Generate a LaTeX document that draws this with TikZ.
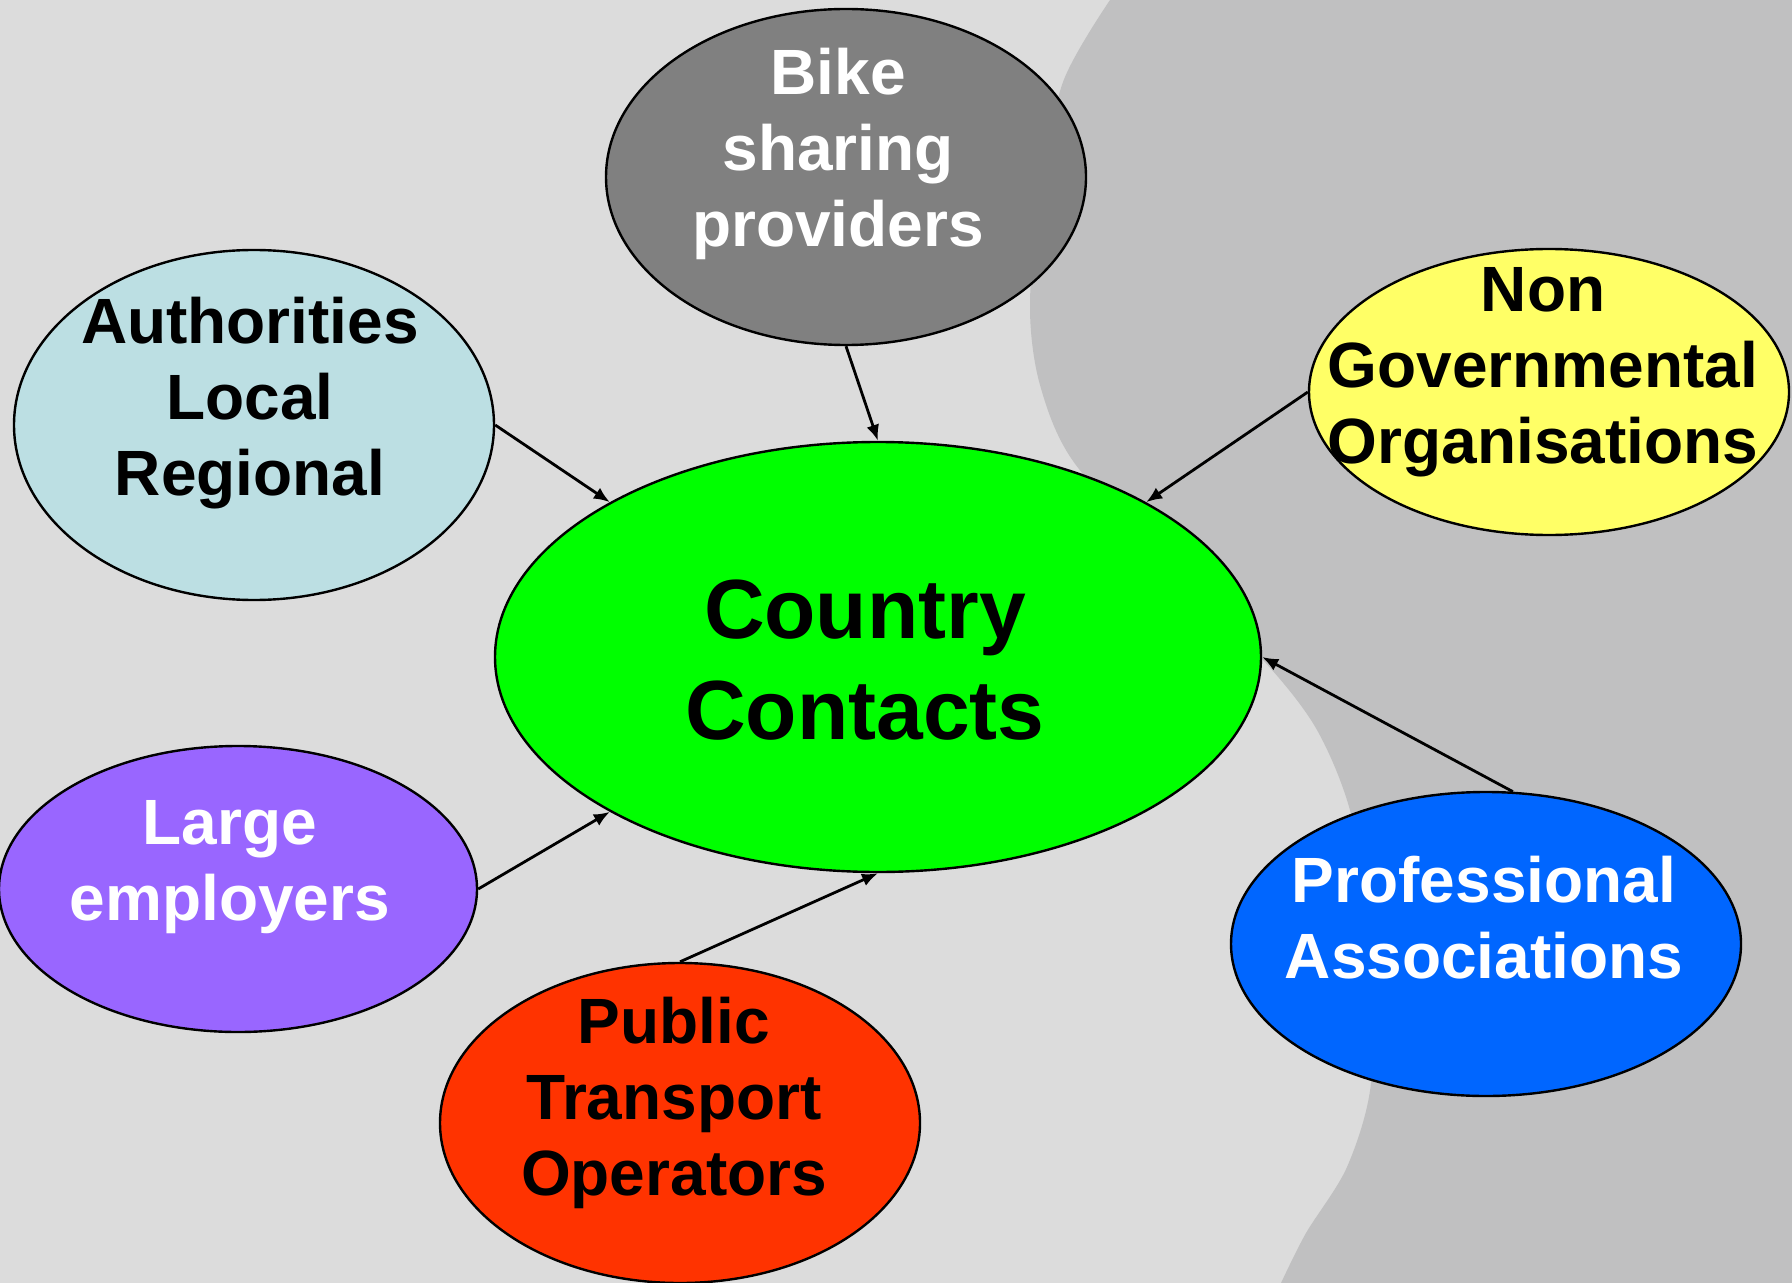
\documentclass[tikz,border=0pt]{standalone}
\usepackage{fontspec}
\setmainfont{Liberation Sans}
\usetikzlibrary{shapes,arrows.meta,positioning}

\definecolor{bglight}{HTML}{DCDCDC}
\definecolor{bgdark}{HTML}{C0C0C1}
\definecolor{bikegray}{HTML}{808080}
\definecolor{authblue}{HTML}{BCDFE3}
\definecolor{ngoyellow}{HTML}{FFFF66}
\definecolor{ccgreen}{HTML}{00FF00}
\definecolor{empviolet}{HTML}{9966FF}
\definecolor{ptred}{HTML}{FF3300}
\definecolor{profblue}{HTML}{0066FF}

\tikzset{
  actor/.style={draw,ellipse,line width=1.2pt,inner sep=0pt},
  lbl/.style={font=\fontsize{32}{38}\selectfont\bfseries,align=center,inner sep=0pt},
  link/.style={->,>={Latex[length=8pt,width=6.5pt]},line width=1.4pt}
}

\begin{document}
\begin{tikzpicture}[x=0.5pt,y=-0.5pt]
        \fill[bglight] (0,0) rectangle (1792,1283);
        \useasboundingbox (0,0) rectangle (1792,1283);
        \fill[bgdark] plot[smooth] coordinates {(1110,0) (1063,82) (1038,200) (1030,310) (1040,385) (1073,461) (1170,570) (1263,660) (1317,730) (1352,818) (1370,950) (1371,1083) (1347,1167) (1306,1233) (1281,1283)} -- (1792,1283) -- (1792,0) -- cycle;
        % ellipses
        \node[actor,fill=ccgreen,minimum width=383pt,minimum height=215pt] (cc) at (878,657) {};
        \node[actor,fill=bikegray,minimum width=240pt,minimum height=168pt] (bike) at (846,177) {};
        \node[actor,fill=authblue,minimum width=240pt,minimum height=175pt] (auth) at (254,425) {};
        \node[actor,fill=ngoyellow,minimum width=240pt,minimum height=143pt] (ngo) at (1549,392) {};
        \node[actor,fill=empviolet,minimum width=239pt,minimum height=143pt] (emp) at (238,889) {};
        \node[actor,fill=ptred,minimum width=240pt,minimum height=160pt] (pt) at (680,1123) {};
        \node[actor,fill=profblue,minimum width=255pt,minimum height=152pt] (prof) at (1486,944) {};
        % texts
        \node[lbl,font=\fontsize{42}{50.5}\selectfont\bfseries] (cctxt) at (865,660) {Country\\Contacts};
        \node[lbl,white] (biketxt) at (838,154) {Bike\\sharing\\providers};
        \node[lbl] (authtxt) at (250,403) {Authorities\\Local\\Regional};
        \node[lbl] (ngotxt) at (1543,372) {Non\\Governmental\\Organisations};
        \node[lbl,white] (emptxt) at (230,867) {Large\\employers};
        \node[lbl] (pttxt) at (674,1103) {Public\\Transport\\Operators};
        \node[lbl,white] (proftxt) at (1484,918) {Professional\\Associations};
        % arrows
        \draw[link] (bike.south) -- (cc.north);
        \draw[link] (auth.east) -- (cc.150);
        \draw[link] (ngo.west) -- (cc.30);
        \draw[link] (emp.east) -- (cc.210);
        \draw[link] (pt.north) -- (cc.south);
        \draw[link] (prof.80) -- (cc.east);
\end{tikzpicture}
\end{document}
